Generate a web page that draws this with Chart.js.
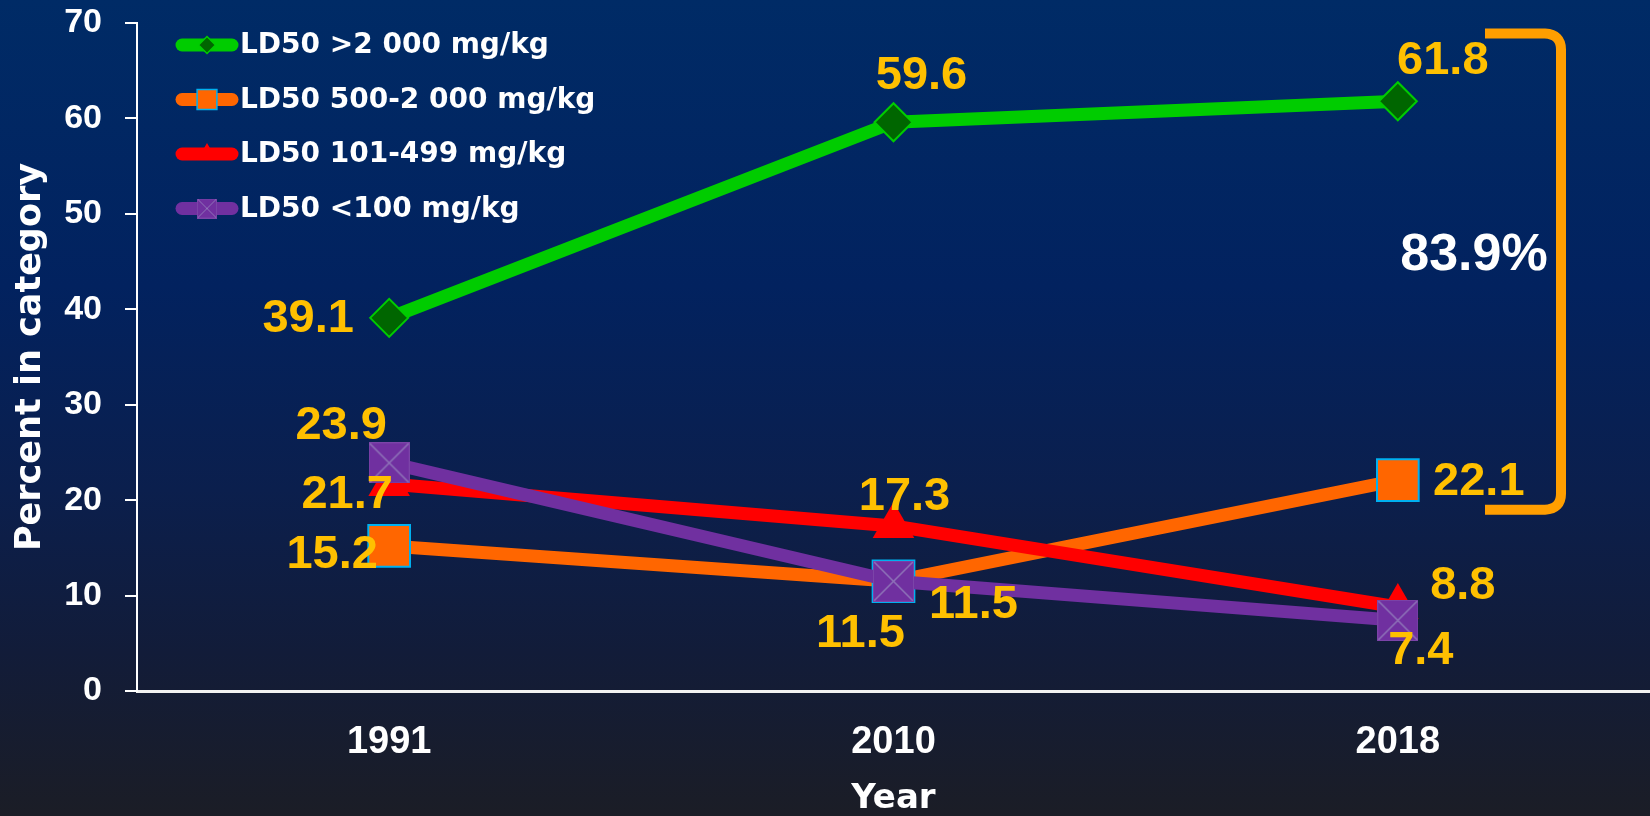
<!DOCTYPE html>
<html>
<head>
<meta charset="utf-8">
<script src="https://cdn.jsdelivr.net/npm/chart.js@4/dist/chart.umd.min.js"></script>
<style>
  html, body { margin: 0; padding: 0; background: #0b1f4a; }
  canvas { display: block; }
</style>
</head>
<body>
<canvas id="ldChart" width="1650" height="816"></canvas>
<script>
// data
const years = ['1991', '2010', '2018'];
const over2000 = [39.1, 59.6, 61.8];
const from500to2000 = [15.2, 11.5, 22.1];
const from101to499 = [21.7, 17.3, 8.8];
const under100 = [23.9, 11.5, 7.4];
const seriesNames = ['LD50 >2 000 mg/kg', 'LD50 500-2 000 mg/kg', 'LD50 101-499 mg/kg', 'LD50 <100 mg/kg'];
const bracketText = '83.9%';
const bracketRange = [19.0, 68.9];

// where each value label sits relative to its marker (px)
const labelOffsets = [
    [[-81, 1], [28, -46], [45, -40]],
    [[-57, 9], [-33, 53], [81, 2]],
    [[-42, 11], [11, -29], [65, -21]],
    [[-48, -37], [80, 24], [23, 31]]
];

const numFont = "'Liberation Sans', Arial, sans-serif";
const wordFont = "'DejaVu Sans', sans-serif";

// purple square with an X through it
function makeXBox(size) {
    const c = document.createElement('canvas');
    c.width = size;
    c.height = size;
    const g = c.getContext('2d');
    g.fillStyle = '#7030A0';
    g.fillRect(0, 0, size, size);
    g.strokeStyle = '#8E72B8';
    g.lineWidth = size > 30 ? 1.6 : 1;
    g.beginPath();
    g.moveTo(1, 1); g.lineTo(size - 1, size - 1);
    g.moveTo(size - 1, 1); g.lineTo(1, size - 1);
    g.stroke();
    g.strokeStyle = '#7b44a8';
    g.lineWidth = 1;
    g.strokeRect(0.5, 0.5, size - 1, size - 1);
    return c;
}
const xBoxBig = makeXBox(41);
const xBoxSmall = makeXBox(20);

const legendMarkers = [
    { pointStyle: 'rectRot', radius: 8.5, fill: '#006600', stroke: '#00CC00', bw: 1.5 },
    { pointStyle: 'rect', radius: 14, fill: '#FF6600', stroke: '#00B0F0', bw: 1.5 },
    { pointStyle: 'triangle', radius: 11, fill: '#FF0000', stroke: '#FF0000', bw: 0 },
    { pointStyle: xBoxSmall, radius: 10, fill: '#7030A0', stroke: '#7030A0', bw: 0 }
];
const lineColors = ['#00CC00', '#FF6600', '#FF0000', '#7030A0'];

const backgroundPlugin = {
    id: 'slideBackground',
    beforeDraw(chart) {
        const { ctx, width, height } = chart;
        const grad = ctx.createLinearGradient(0, 0, 0, height);
        grad.addColorStop(0, '#002b66');
        grad.addColorStop(0.35, '#02225f');
        grad.addColorStop(0.6, '#0b1f4d');
        grad.addColorStop(0.8, '#121c39');
        grad.addColorStop(1, '#1b1d26');
        ctx.save();
        ctx.fillStyle = grad;
        ctx.fillRect(0, 0, width, height);
        ctx.restore();
    }
};

const valueLabels = {
    id: 'valueLabels',
    afterDatasetsDraw(chart) {
        const ctx = chart.ctx;
        ctx.save();
        ctx.font = 'bold 47px ' + numFont;
        ctx.fillStyle = '#FFC000';
        ctx.textAlign = 'center';
        ctx.textBaseline = 'middle';
        chart.data.datasets.forEach((ds, i) => {
            const meta = chart.getDatasetMeta(i);
            meta.data.forEach((pt, j) => {
                const off = labelOffsets[i][j];
                ctx.fillText(ds.data[j].toFixed(1), pt.x + off[0], pt.y + off[1]);
            });
        });
        ctx.restore();
    }
};

const bracketNote = {
    id: 'bracketNote',
    afterDatasetsDraw(chart) {
        const ctx = chart.ctx;
        const y = chart.scales.y;
        const top = y.getPixelForValue(bracketRange[1]);
        const bottom = y.getPixelForValue(bracketRange[0]);
        const xl = 1485, xr = 1561;
        ctx.save();
        ctx.strokeStyle = '#FF9E00';
        ctx.lineWidth = 10;
        ctx.lineJoin = 'round';
        ctx.beginPath();
        ctx.moveTo(xl, top);
        ctx.lineTo(xr - 16, top);
        ctx.quadraticCurveTo(xr, top + 1, xr, top + 16);
        ctx.lineTo(xr, bottom - 16);
        ctx.quadraticCurveTo(xr, bottom - 1, xr - 16, bottom);
        ctx.lineTo(xl, bottom);
        ctx.stroke();
        ctx.font = 'bold 52px ' + numFont;
        ctx.fillStyle = '#ffffff';
        ctx.textAlign = 'center';
        ctx.textBaseline = 'middle';
        ctx.fillText(bracketText, 1474, 256);
        ctx.restore();
    }
};

const slideLegend = {
    id: 'slideLegend',
    afterDraw(chart) {
        const ctx = chart.ctx;
        ctx.save();
        chart.data.datasets.forEach((ds, i) => {
            const cy = 45 + i * 54.5;
            ctx.strokeStyle = lineColors[i];
            ctx.lineWidth = 13;
            ctx.lineCap = 'round';
            ctx.beginPath();
            ctx.moveTo(182, cy);
            ctx.lineTo(232, cy);
            ctx.stroke();
            const m = legendMarkers[i];
            ctx.fillStyle = m.fill;
            ctx.strokeStyle = m.stroke;
            ctx.lineWidth = m.bw;
            ctx.lineCap = 'butt';
            Chart.helpers.drawPoint(ctx, { pointStyle: m.pointStyle, radius: m.radius, rotation: 0, borderWidth: m.bw }, 207, cy);
            ctx.fillStyle = '#ffffff';
            ctx.font = 'bold 28px ' + wordFont;
            ctx.textAlign = 'left';
            ctx.textBaseline = 'middle';
            ctx.fillText(ds.label, 240, cy + 1);
        });
        ctx.restore();
    }
};

new Chart(document.getElementById('ldChart'), {
    type: 'line',
    data: {
        labels: years,
        datasets: [
            {
                label: seriesNames[0],
                data: over2000,
                borderColor: '#00CC00',
                borderWidth: 13,
                pointStyle: 'rectRot',
                pointRadius: 19,
                pointBackgroundColor: '#006600',
                pointBorderColor: '#00CC00',
                pointBorderWidth: 2,
                order: 4
            },
            {
                label: seriesNames[1],
                data: from500to2000,
                borderColor: '#FF6600',
                borderWidth: 13,
                pointStyle: 'rect',
                pointRadius: 29.5,
                pointBackgroundColor: '#FF6600',
                pointBorderColor: '#00B0F0',
                pointBorderWidth: 2,
                order: 3
            },
            {
                label: seriesNames[2],
                data: from101to499,
                borderColor: '#FF0000',
                borderWidth: 13,
                pointStyle: 'triangle',
                pointRadius: 24,
                pointBackgroundColor: '#FF0000',
                pointBorderColor: '#FF0000',
                pointBorderWidth: 0,
                order: 2
            },
            {
                label: seriesNames[3],
                data: under100,
                borderColor: '#7030A0',
                borderWidth: 13,
                pointStyle: xBoxBig,
                pointRadius: 20,
                pointBackgroundColor: '#7030A0',
                pointBorderColor: '#7030A0',
                order: 1
            }
        ]
    },
    options: {
        responsive: false,
        animation: false,
        layout: { autoPadding: false, padding: { top: 23, left: 0, right: 0, bottom: 0 } },
        plugins: {
            legend: { display: false },
            tooltip: { enabled: false }
        },
        elements: {
            line: { tension: 0, borderJoinStyle: 'round' },
            point: { hoverRadius: 0 }
        },
        scales: {
            x: {
                offset: true,
                afterFit(scale) { scale.height = 125; },
                grid: { display: true, drawOnChartArea: false, drawTicks: false },
                border: { display: true, color: '#f2f2f2', width: 3 },
                ticks: {
                    color: '#ffffff',
                    padding: 29,
                    font: { family: numFont, size: 38, weight: 'bold' }
                },
                title: {
                    display: true,
                    text: 'Year',
                    color: '#ffffff',
                    padding: 0,
                    font: { family: wordFont, size: 34, weight: 'bold', lineHeight: 1 }
                }
            },
            y: {
                min: 0,
                max: 70,
                afterFit(scale) {
                    scale.width = 137;
                    // let the layout padding alone decide the top edge
                    scale.paddingTop = 0;
                    scale.paddingBottom = 0;
                },
                grid: {
                    display: true,
                    drawOnChartArea: false,
                    drawTicks: true,
                    tickLength: 12,
                    color: '#ffffff',
                    lineWidth: 2
                },
                border: { display: true, color: '#ffffff', width: 2 },
                ticks: {
                    stepSize: 10,
                    color: '#ffffff',
                    padding: 23,
                    font: { family: numFont, size: 34, weight: 'bold' }
                },
                title: {
                    display: true,
                    text: 'Percent in category',
                    color: '#ffffff',
                    padding: { top: 13, bottom: 0 },
                    font: { family: wordFont, size: 35, weight: 'bold', lineHeight: 1 }
                }
            }
        }
    },
    plugins: [backgroundPlugin, bracketNote, valueLabels, slideLegend]
});
</script>
</body>
</html>
